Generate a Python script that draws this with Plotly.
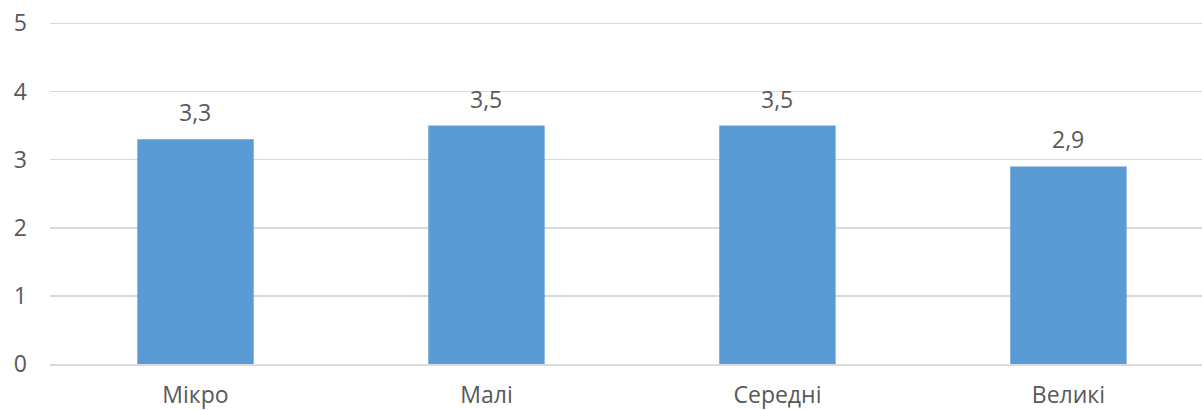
import plotly.graph_objects as go

categories = ["Мікро", "Малі", "Середні", "Великі"]
values = [3.3, 3.5, 3.5, 2.9]
y_ticks = [0, 1, 2, 3, 4, 5]

FONT = "Open Sans"
TXT = "#595959"
FS = 23

fig = go.Figure()
fig.add_trace(go.Bar(
    x=list(range(len(categories))), y=values,
    marker=dict(color="#5B9BD5", line=dict(width=0)),
    width=0.4,
    hoverinfo="skip",
))

for i, v in enumerate(values):
    fig.add_annotation(x=i, y=v, text=f"{v:.1f}".replace(".", ","),
                       showarrow=False, yanchor="middle", yshift=27,
                       font=dict(family=FONT, size=FS, color=TXT))

fig.update_layout(
    width=1202, height=410,
    margin=dict(l=50, r=0, t=20, b=46, autoexpand=False),
    paper_bgcolor="white", plot_bgcolor="white",
    showlegend=False,
    font=dict(family=FONT, size=FS, color=TXT),
    xaxis=dict(
        range=[-0.5, 3.459],
        tickmode="array", tickvals=list(range(len(categories))), ticktext=categories,
        showgrid=False, zeroline=False, automargin=False,
        showline=True, linecolor="#d9d9d9", linewidth=1.5,
        ticks="", ticklabelstandoff=10,
        tickfont=dict(family=FONT, size=FS, color=TXT),
    ),
    yaxis=dict(
        range=[0, 5.05],
        tickmode="array", tickvals=y_ticks, automargin=False,
        showgrid=True, gridcolor="#d9d9d9", gridwidth=1.5,
        zeroline=False, showline=False, ticks="",
        ticklabelstandoff=22,
        tickfont=dict(family=FONT, size=FS, color=TXT),
    ),
)

fig.write_html("out.html", config={"displayModeBar": False, "staticPlot": True})

with open("out.html", encoding="utf-8") as f:
    html = f.read()
html = html.replace("<head>", "<head><style>html,body{margin:0;padding:0;overflow:hidden;}</style>", 1)
with open("out.html", "w", encoding="utf-8") as f:
    f.write(html)
